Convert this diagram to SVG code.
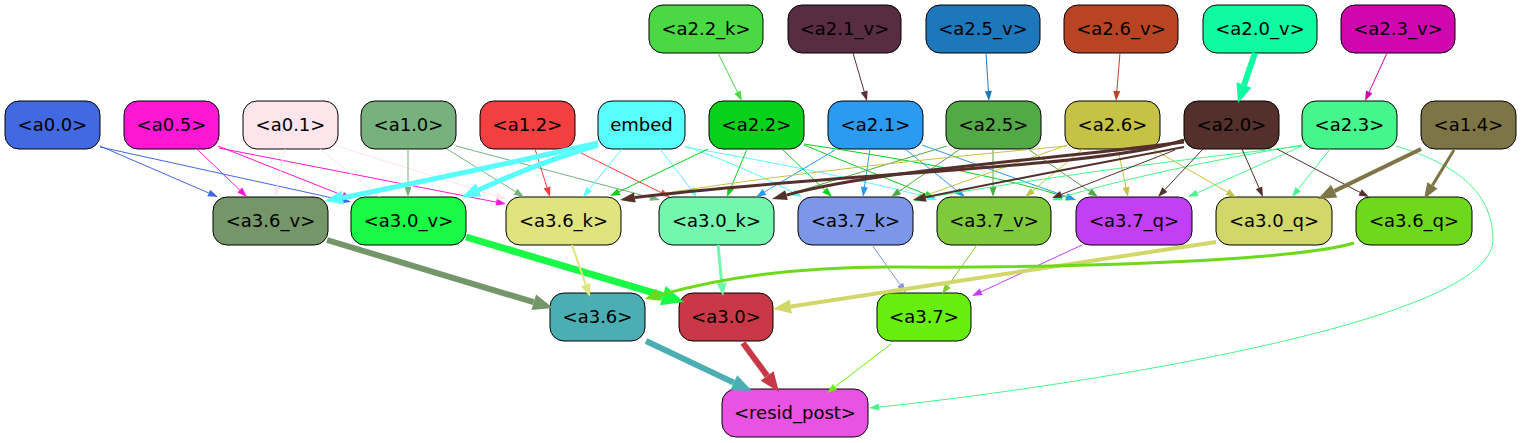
<svg xmlns="http://www.w3.org/2000/svg" width="1521" height="443" viewBox="0 0 1521 443">
<style>
.n rect{stroke:#000;stroke-width:1}
.n text{font-family:"DejaVu Sans","Liberation Sans",sans-serif;font-size:18px;text-anchor:middle;fill:#000}
#edges path{fill:none}
#edges polygon{stroke:none}
</style>
<rect width="1521" height="443" fill="#fff"/>
<g id="nodes">
<g id="a2.2_k" class="n"><rect x="649" y="5" width="114" height="48" rx="14" fill="#4ad943"/><text x="706" y="35">&lt;a2.2_k&gt;</text></g>
<g id="a2.1_v" class="n"><rect x="788" y="5" width="113" height="48" rx="14" fill="#582d41"/><text x="844.5" y="35">&lt;a2.1_v&gt;</text></g>
<g id="a2.5_v" class="n"><rect x="926" y="5" width="114" height="48" rx="14" fill="#1c78bb"/><text x="983" y="35">&lt;a2.5_v&gt;</text></g>
<g id="a2.6_v" class="n"><rect x="1064" y="5" width="114" height="48" rx="14" fill="#b84424"/><text x="1121" y="35">&lt;a2.6_v&gt;</text></g>
<g id="a2.0_v" class="n"><rect x="1203" y="5" width="114" height="48" rx="14" fill="#0ffba1"/><text x="1260" y="35">&lt;a2.0_v&gt;</text></g>
<g id="a2.3_v" class="n"><rect x="1341" y="5" width="114" height="48" rx="14" fill="#d006b0"/><text x="1398" y="35">&lt;a2.3_v&gt;</text></g>

<g id="a0.0" class="n"><rect x="5" y="101" width="95" height="48" rx="14" fill="#4169e1"/><text x="52.5" y="131">&lt;a0.0&gt;</text></g>
<g id="a0.5" class="n"><rect x="124" y="101" width="95" height="48" rx="14" fill="#fe17d5"/><text x="171.5" y="131">&lt;a0.5&gt;</text></g>
<g id="a0.1" class="n"><rect x="243" y="101" width="95" height="48" rx="14" fill="#fde5eb"/><text x="290.5" y="131">&lt;a0.1&gt;</text></g>
<g id="a1.0" class="n"><rect x="361" y="101" width="95" height="48" rx="14" fill="#76b17e"/><text x="408.5" y="131">&lt;a1.0&gt;</text></g>
<g id="a1.2" class="n"><rect x="480" y="101" width="95" height="48" rx="14" fill="#f33f40"/><text x="527.5" y="131">&lt;a1.2&gt;</text></g>
<g id="embed" class="n"><rect x="598" y="101" width="87" height="48" rx="14" fill="#58fefc"/><text x="641.5" y="131">embed</text></g>
<g id="a2.2" class="n"><rect x="709" y="101" width="95" height="48" rx="14" fill="#08d11b"/><text x="756.5" y="131">&lt;a2.2&gt;</text></g>
<g id="a2.1" class="n"><rect x="828" y="101" width="95" height="48" rx="14" fill="#2b9bf2"/><text x="875.5" y="131">&lt;a2.1&gt;</text></g>
<g id="a2.5" class="n"><rect x="946" y="101" width="95" height="48" rx="14" fill="#53a945"/><text x="993.5" y="131">&lt;a2.5&gt;</text></g>
<g id="a2.6" class="n"><rect x="1065" y="101" width="95" height="48" rx="14" fill="#c5c245"/><text x="1112.5" y="131">&lt;a2.6&gt;</text></g>
<g id="a2.0" class="n"><rect x="1184" y="101" width="95" height="48" rx="14" fill="#53302b"/><text x="1231.5" y="131">&lt;a2.0&gt;</text></g>
<g id="a2.3" class="n"><rect x="1302" y="101" width="95" height="48" rx="14" fill="#46f68c"/><text x="1349.5" y="131">&lt;a2.3&gt;</text></g>
<g id="a1.4" class="n"><rect x="1421" y="101" width="95" height="48" rx="14" fill="#7e7547"/><text x="1468.5" y="131">&lt;a1.4&gt;</text></g>

<g id="a3.6_v" class="n"><rect x="213" y="197" width="115" height="48" rx="14" fill="#759669"/><text x="270.5" y="227">&lt;a3.6_v&gt;</text></g>
<g id="a3.0_v" class="n"><rect x="351" y="197" width="115" height="48" rx="14" fill="#18fa45"/><text x="408.5" y="227">&lt;a3.0_v&gt;</text></g>
<g id="a3.6_k" class="n"><rect x="506" y="197" width="115" height="48" rx="14" fill="#e0e47f"/><text x="563.5" y="227">&lt;a3.6_k&gt;</text></g>
<g id="a3.0_k" class="n"><rect x="659" y="197" width="115" height="48" rx="14" fill="#73f6ae"/><text x="716.5" y="227">&lt;a3.0_k&gt;</text></g>
<g id="a3.7_k" class="n"><rect x="798" y="197" width="115" height="48" rx="14" fill="#7c97e8"/><text x="855.5" y="227">&lt;a3.7_k&gt;</text></g>
<g id="a3.7_v" class="n"><rect x="937" y="197" width="114" height="48" rx="14" fill="#7fca3b"/><text x="994" y="227">&lt;a3.7_v&gt;</text></g>
<g id="a3.7_q" class="n"><rect x="1076" y="197" width="116" height="48" rx="14" fill="#c23ff5"/><text x="1134" y="227">&lt;a3.7_q&gt;</text></g>
<g id="a3.0_q" class="n"><rect x="1216" y="197" width="116" height="48" rx="14" fill="#d2d76a"/><text x="1274" y="227">&lt;a3.0_q&gt;</text></g>
<g id="a3.6_q" class="n"><rect x="1356" y="197" width="116" height="48" rx="14" fill="#6ed91a"/><text x="1414" y="227">&lt;a3.6_q&gt;</text></g>

<g id="a3.6" class="n"><rect x="550" y="293" width="95" height="48" rx="14" fill="#4aaeb3"/><text x="597.5" y="323">&lt;a3.6&gt;</text></g>
<g id="a3.0" class="n"><rect x="679" y="293" width="94" height="48" rx="14" fill="#c83846"/><text x="726" y="323">&lt;a3.0&gt;</text></g>
<g id="a3.7" class="n"><rect x="877" y="293" width="94" height="48" rx="14" fill="#67ee0e"/><text x="924" y="323">&lt;a3.7&gt;</text></g>
<g id="resid_post" class="n"><rect x="722" y="389" width="146" height="48" rx="14" fill="#e952e2"/><text x="795" y="419">&lt;resid_post&gt;</text></g>
</g>

<g id="edges">
<!-- row1 to row2 -->
<path d="M718,53 L737.5,92.1" stroke="#4ad943"/><polygon points="734.4,93.7 742,101 740.6,90.5" fill="#4ad943"/>
<path d="M853,53 L864.2,91.4" stroke="#582d41"/><polygon points="860.8,92.4 867,101 867.6,90.4" fill="#582d41"/>
<path d="M986,53 L988.4,91" stroke="#1c78bb"/><polygon points="984.9,91.2 989,101 991.9,90.8" fill="#1c78bb"/>
<path d="M1120,53 L1116.8,91" stroke="#b84424"/><polygon points="1113.3,90.7 1116,101 1120.3,91.3" fill="#b84424"/>
<path d="M1255,53 L1244,85" stroke="#0ffba1" stroke-width="6"/><polygon points="1236.5,82.3 1238,103 1251.5,87.7" fill="#0ffba1"/>
<path d="M1387,53 L1369.2,91.9" stroke="#d006b0"/><polygon points="1366,90.4 1365,101 1372.4,93.4" fill="#d006b0"/>

<!-- a0.0 -->
<path d="M100,146 L208.8,193" stroke="#4169e1"/><polygon points="207.4,196.2 218,197 210.2,189.8" fill="#4169e1"/>
<path d="M100,147 L341.2,199.9" stroke="#4169e1"/><polygon points="340.5,203.3 351,202 342,196.5" fill="#4169e1"/>
<!-- a0.5 -->
<path d="M197,149 L239.8,190.1" stroke="#fe17d5"/><polygon points="237.4,192.6 247,197 242.2,187.6" fill="#fe17d5"/>
<path d="M218,146 L342.7,195.3" stroke="#fe17d5"/><polygon points="341.4,198.6 352,199 344,192" fill="#fe17d5"/>
<path d="M219,148 L496.2,202.1" stroke="#fe17d5"/><polygon points="495.5,205.5 506,204 496.9,198.7" fill="#fe17d5"/>
<!-- a0.1 -->
<path d="M285,149 L277,187.2" stroke="#fde5eb"/><polygon points="273.6,186.5 275,197 280.4,187.9" fill="#fde5eb"/>
<path d="M320,149 L372.2,190.8" stroke="#fde5eb"/><polygon points="370,193.5 380,197 374.4,188.1" fill="#fde5eb"/>
<path d="M337,146 L496.5,196" stroke="#fde5eb"/><polygon points="495.5,199.3 506,199 497.6,192.7" fill="#fde5eb"/>
<!-- a1.0 -->
<path d="M408,149 L408,187" stroke="#76b17e"/><polygon points="404.5,187 408,197 411.5,187" fill="#76b17e"/>
<path d="M447,149 L515.5,191.7" stroke="#76b17e"/><polygon points="513.7,194.7 524,197 517.4,188.7" fill="#76b17e"/>
<path d="M456,146 L650.3,197.4" stroke="#76b17e"/><polygon points="649.4,200.8 660,200 651.2,194" fill="#76b17e"/>
<!-- a1.2 -->
<path d="M535,149 L547,187.5" stroke="#f33f40"/><polygon points="543.7,188.5 550,197 550.3,186.5" fill="#f33f40"/>
<path d="M573,149 L661,192.6" stroke="#f33f40"/><polygon points="659.5,195.7 670,197 662.6,189.4" fill="#f33f40"/>
<!-- embed -->
<path d="M598,143 Q480,170 342.7,197.7" stroke="#58fefc" stroke-width="5"/><polygon points="341.4,190.8 325,201 344,204.6" fill="#58fefc"/>
<path d="M598,145 Q540,162 478.6,190" stroke="#58fefc" stroke-width="5"/><polygon points="475.9,183.6 462,197 481.3,196.4" fill="#58fefc"/>
<path d="M622,149 L589.3,189.2" stroke="#58fefc"/><polygon points="586.6,187 583,197 592,191.4" fill="#58fefc"/>
<path d="M660,149 L690.9,189.1" stroke="#58fefc"/><polygon points="688.1,191.2 697,197 693.7,187" fill="#58fefc"/>
<path d="M685,146 Q740,165 793.2,192.3" stroke="#58fefc"/><polygon points="791.6,195.4 802,197 794.9,189.2" fill="#58fefc"/>
<path d="M685,147 Q830,172 927.5,197" stroke="#58fefc"/><polygon points="926.5,200.3 937,200 928.6,193.7" fill="#58fefc"/>
<!-- a2.2 -->
<path d="M708,149 L619,191.7" stroke="#08d11b"/><polygon points="617.5,188.5 610,196 620.5,194.9" fill="#08d11b"/>
<path d="M747,149 L730.9,187.8" stroke="#08d11b"/><polygon points="727.6,186.4 727,197 734.1,189.1" fill="#08d11b"/>
<path d="M782,149 L824.8,190.1" stroke="#08d11b"/><polygon points="822.4,192.6 832,197 827.2,187.6" fill="#08d11b"/>
<path d="M804,145 L925.7,194.3" stroke="#08d11b"/><polygon points="924.4,197.5 935,198 927,191" fill="#08d11b"/>
<path d="M804,144 Q980,170 1066.4,197.1" stroke="#08d11b"/><polygon points="1065.4,200.4 1076,200 1067.4,193.7" fill="#08d11b"/>
<!-- a2.1 -->
<path d="M835,150 L764.6,191.9" stroke="#2b9bf2"/><polygon points="762.8,188.9 756,197 766.4,194.9" fill="#2b9bf2"/>
<path d="M870,149 L864.4,187.1" stroke="#2b9bf2"/><polygon points="860.9,186.6 863,197 867.9,187.6" fill="#2b9bf2"/>
<path d="M905,149 L957.2,190.8" stroke="#2b9bf2"/><polygon points="955,193.5 965,197 959.4,188.1" fill="#2b9bf2"/>
<path d="M922,145 L1066.6,196.6" stroke="#2b9bf2"/><polygon points="1065.4,199.9 1076,200 1067.8,193.3" fill="#2b9bf2"/>
<!-- a2.5 -->
<path d="M960,149 L899.2,191.3" stroke="#53a945"/><polygon points="897.2,188.4 891,197 901.2,194.2" fill="#53a945"/>
<path d="M993,149 L993,187" stroke="#53a945"/><polygon points="989.5,187 993,197 996.5,187" fill="#53a945"/>
<path d="M1028,149 L1089.8,191.4" stroke="#53a945"/><polygon points="1087.8,194.3 1098,197 1091.8,188.5" fill="#53a945"/>
<path d="M947,146 L785.6,195.1" stroke="#53a945"/><polygon points="784.6,191.8 776,198 786.6,198.5" fill="#53a945"/>
<!-- a2.6 -->
<path d="M1067,145 L922.4,196.6" stroke="#c5c245"/><polygon points="921.2,193.3 913,200 923.6,199.9" fill="#c5c245"/>
<path d="M1083,149 L1032.7,190.6" stroke="#c5c245"/><polygon points="1030.5,187.9 1025,197 1034.9,193.3" fill="#c5c245"/>
<path d="M1118,149 L1126,187.2" stroke="#c5c245"/><polygon points="1122.6,187.9 1128,197 1129.4,186.5" fill="#c5c245"/>
<path d="M1153,149 L1227.3,192" stroke="#c5c245"/><polygon points="1225.6,195 1236,197 1229.1,189" fill="#c5c245"/>
<path d="M1067,146 Q800,170 630.9,198.8" stroke="#c5c245"/><polygon points="630.3,195.3 621,200 631.5,202.3" fill="#c5c245"/>
<!-- a2.3 -->
<path d="M1302,146 L1197.1,192.9" stroke="#46f68c"/><polygon points="1195.7,189.7 1188,197 1198.5,196.1" fill="#46f68c"/>
<path d="M1330,149 L1298.2,189.2" stroke="#46f68c"/><polygon points="1295.5,187 1292,197 1300.9,191.4" fill="#46f68c"/>
<path d="M1302,145 Q1157.6,169.2 1061.6,197.2" stroke="#46f68c"/><polygon points="1060.6,193.8 1052,200 1062.6,200.6" fill="#46f68c"/>
<path d="M1302,146 Q1100,168 923,198" stroke="#46f68c"/><polygon points="922.2,194.5 913,201 923.8,201.5" fill="#46f68c"/>
<path d="M1396,146 C1460,165 1493,195 1493,240 C1493,330 1000,395 879,407" stroke="#46f68c"/><polygon points="878.7,403.5 869,408 879.4,410.5" fill="#46f68c"/>
<!-- a2.0 -->
<path d="M1184,140 C1100,168 850,172 634.8,197.5" stroke="#53302b" stroke-width="3"/><polygon points="633.9,192.6 620,200 635.6,202.4" fill="#53302b"/>
<path d="M1184,142 C1050,160 883,169 786.5,195.1" stroke="#53302b" stroke-width="3"/><polygon points="785.2,190.3 772,199 787.8,199.9" fill="#53302b"/>
<path d="M1184,147 Q1004,181 925.7,197.3" stroke="#53302b" stroke-width="2"/><polygon points="924.8,192.9 913,200 926.6,201.7" fill="#53302b"/>
<path d="M1175,150 L1061.3,194.4" stroke="#53302b"/><polygon points="1060,191.1 1052,198 1062.6,197.7" fill="#53302b"/>
<path d="M1203,149 L1164.8,189.7" stroke="#53302b"/><polygon points="1162.3,187.3 1158,197 1167.4,192.1" fill="#53302b"/>
<path d="M1242,149 L1259,187.8" stroke="#53302b"/><polygon points="1255.8,189.2 1263,197 1262.2,186.4" fill="#53302b"/>
<path d="M1277,149 L1360.1,192.4" stroke="#53302b"/><polygon points="1358.5,195.5 1369,197 1361.7,189.3" fill="#53302b"/>
<!-- a1.4 -->
<path d="M1421,149 L1334.2,191.1" stroke="#7e7547" stroke-width="4"/><polygon points="1331.1,184.8 1318,199 1337.3,197.4" fill="#7e7547"/>
<path d="M1454,150 L1432.4,185.4" stroke="#7e7547" stroke-width="3"/><polygon points="1427.3,182.3 1424,199 1437.5,188.5" fill="#7e7547"/>
<!-- row3 to row4 -->
<path d="M327,240 L533.8,302.2" stroke="#759669" stroke-width="6"/><polygon points="531.5,309.9 553,308 536.1,294.5" fill="#759669"/>
<path d="M466,237 L662.9,295.7" stroke="#18fa45" stroke-width="7"/><polygon points="660,305.3 684,302 665.8,286.1" fill="#18fa45"/>
<path d="M572,245 L585.7,284.7" stroke="#e0e47f" stroke-width="2"/><polygon points="581,286.3 590,297 590.4,283.1" fill="#e0e47f"/>
<path d="M718,245 L721.7,283.1" stroke="#73f6ae" stroke-width="3"/><polygon points="716.7,283.6 723,296 726.7,282.6" fill="#73f6ae"/>
<path d="M872,245 L900.2,284.8" stroke="#7c97e8"/><polygon points="897.4,286.8 906,293 903,282.8" fill="#7c97e8"/>
<path d="M977,245 L947.8,285.9" stroke="#7fca3b"/><polygon points="945,283.8 942,294 950.6,287.9" fill="#7fca3b"/>
<path d="M1082,245 L981.1,291.8" stroke="#c23ff5"/><polygon points="979.6,288.6 972,296 982.6,295" fill="#c23ff5"/>
<path d="M1216,242 Q1000,275 790.8,306.5" stroke="#d2d76a" stroke-width="4"/><polygon points="789.8,299.6 773,309 791.8,313.4" fill="#d2d76a"/>
<path d="M1354,243 C1290,262 1050,268 900,267 C800,266 720,278 659.4,295.1" stroke="#6ed91a" stroke-width="3"/><polygon points="656.3,288.8 645,299 661.7,300.8" fill="#6ed91a"/>
<!-- row4 to resid_post -->
<path d="M646,341 L733.8,382.6" stroke="#4aaeb3" stroke-width="6"/><polygon points="730.4,389.9 752,391 737.2,375.3" fill="#4aaeb3"/>
<path d="M743,343 L767.2,375.9" stroke="#c83846" stroke-width="6"/><polygon points="760.7,380.6 779,392 773.6,371.2" fill="#c83846"/>
<path d="M891,344 L834.9,386.9" stroke="#67ee0e"/><polygon points="832.8,384.1 827,393 837,389.7" fill="#67ee0e"/>
</g>
</svg>
